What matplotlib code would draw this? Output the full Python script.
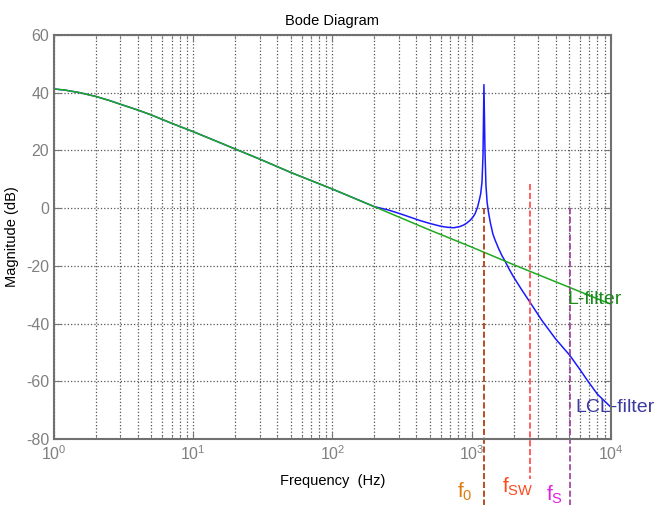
import matplotlib.pyplot as plt
from matplotlib.ticker import LogLocator, NullFormatter

plt.rcParams['font.family'] = ['Liberation Sans', 'DejaVu Sans']
plt.rcParams['mathtext.fontset'] = 'custom'
plt.rcParams['mathtext.rm'] = 'Liberation Sans'
plt.rcParams['mathtext.it'] = 'Liberation Sans:italic'
plt.rcParams['axes.unicode_minus'] = False

# values
l_freq = [1, 1.2, 1.5, 1.7, 2, 2.5, 3, 4, 5, 7, 10, 15, 20, 30, 50, 100, 200, 500, 1000, 2000, 5000, 10000]
l_mag = [41.3, 40.9, 40.1, 39.5, 38.7, 37.3, 36.0, 34.0, 32.3, 29.4, 26.5, 23.0, 20.5, 17.0, 12.4, 6.6, 0.5,
         -7.6, -13.5, -19.6, -27.4, -33.3]

lcl_freq = [1, 1.2, 1.5, 1.7, 2, 2.5, 3, 4, 5, 7, 10, 15, 20, 30, 50, 100, 200, 250, 300, 360, 425, 500, 590, 660,
            740, 820, 880, 920, 970, 1025, 1060, 1100, 1130, 1160, 1185, 1205, 1224,
            1245, 1265, 1290, 1320, 1360, 1420, 1470, 1560, 1650, 1733, 1850, 1990,
            2300, 2620, 3200, 4000, 5060, 6000, 6840, 8000, 10000]
lcl_mag = [41.3, 40.9, 40.1, 39.5, 38.7, 37.3, 36.0, 34.0, 32.3, 29.4, 26.5, 23.0, 20.5, 17.0, 12.4, 6.6, 0.5,
           -0.6, -1.8, -3.1, -4.3, -5.3, -6.2, -6.6,
           -6.8, -6.4, -5.8, -5.2, -4.3, -3.0, -1.8, 0.3, 2.5, 5.0, 9.0, 18.0, 42.8,
           20.0, 8.0, 2.0, -1.5, -5.0, -9.0, -11.0, -14.0, -16.5, -18.3, -21.0, -23.7,
           -28.5, -32.6, -39.0, -45.3, -51.0, -56.0, -60.0, -64.5, -69.0]

# marker frequencies: f0, fsw, fs
mark_freq = [1230, 2620, 5050]
mark_top = [0, 8.5, 0]
mark_bottom = [-103, -94, -103]
mark_colors = ['#b03000', '#ff4545', '#9a3c9a']
mark_labels = ['$\\mathregular{f_0}$', '$\\mathregular{f_{SW}}$', '$\\mathregular{f_S}$']
label_colors = ['#e07b10', '#ff4a1c', '#e020e0']
label_x = [895, 2150, 3960]
label_y = [-0.131, -0.119, -0.139]

fig = plt.figure(figsize=(6.6, 5.05), dpi=100)
ax = fig.add_axes([0.0818, 0.1307, 0.8439, 0.8])

ax.plot(lcl_freq, lcl_mag, color='#1a1aff', linewidth=1.1)
ax.plot(l_freq, l_mag, color='#1faa1f', linewidth=1.1)

for f, top, bot, c in zip(mark_freq, mark_top, mark_bottom, mark_colors):
    ax.plot([f, f], [top, bot], color=c, linestyle='--', linewidth=1.2, clip_on=False)

for lab, x, y, c in zip(mark_labels, label_x, label_y, label_colors):
    ax.text(x, y, lab, color=c, fontsize=15, ha='center', va='center',
            transform=ax.get_xaxis_transform(), clip_on=False)

ax.text(4830, -31.8, 'L-filter', color='#1a8a1a', fontsize=14, ha='left', va='center', clip_on=False)
ax.text(5510, -69.2, 'LCL-filter', color='#3a3aa0', fontsize=14, ha='left', va='center', clip_on=False)

ax.set_xscale('log')
ax.set_xlim(1, 10000)
ax.set_ylim(-80, 60)
ax.set_yticks(range(-80, 61, 20))
ax.xaxis.set_major_locator(LogLocator(base=10, numticks=10))
ax.xaxis.set_minor_locator(LogLocator(base=10, subs=range(2, 10), numticks=10))
ax.xaxis.set_minor_formatter(NullFormatter())

ax.grid(True, which='major', color='#555555', linestyle=':', linewidth=0.9)
ax.grid(True, which='minor', axis='x', color='#555555', linestyle=':', linewidth=0.9)

ax.tick_params(which='both', direction='in', top=True, right=True, colors='#777777',
               labelcolor='#808080', labelsize=11.5)
ax.tick_params(which='major', length=5)
ax.tick_params(which='minor', length=3)
for s in ax.spines.values():
    s.set_color('#707070')
    s.set_linewidth(1.5)

ax.set_title('Bode Diagram', fontsize=10.5, pad=7)
ax.set_xlabel('Frequency  (Hz)', fontsize=10.5, labelpad=8)
ax.set_ylabel('Magnitude (dB)', fontsize=10.5)
ax.yaxis.set_label_coords(-0.062, 0.5)

fig.savefig('out.png', dpi=100)
